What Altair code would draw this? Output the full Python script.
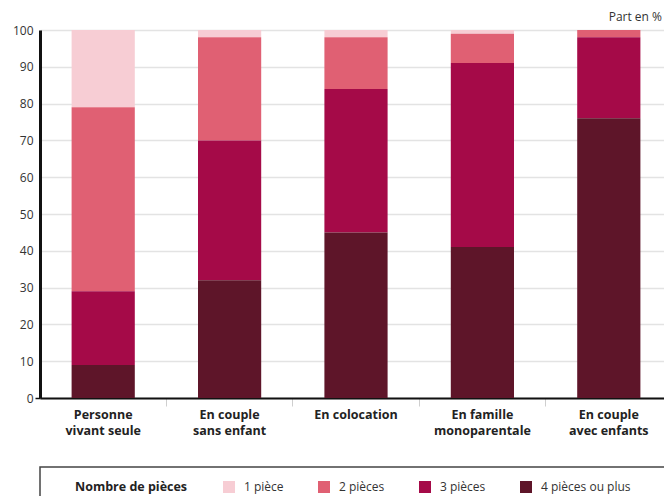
import altair as alt
import pandas as pd

categories = ["Personne\nvivant seule", "En couple\nsans enfant", "En colocation",
              "En famille\nmonoparentale", "En couple\navec enfants"]
pieces = ["1 pièce", "2 pièces", "3 pièces", "4 pièces ou plus"]
colors = ["#F7CDD4", "#E06073", "#A50A48", "#5E1529"]

v_1piece = [21, 2, 2, 1, 0]
v_2pieces = [50, 28, 14, 8, 2]
v_3pieces = [20, 38, 39, 50, 22]
v_4plus = [9, 32, 45, 41, 76]

series = [v_1piece, v_2pieces, v_3pieces, v_4plus]
rows = []
for pi, (p, vals) in enumerate(zip(pieces, series)):
    for c, v in zip(categories, vals):
        rows.append({"cat": c, "piece": p, "value": v, "ord": 3 - pi})
df = pd.DataFrame(rows)

bars = alt.Chart(df).mark_bar().encode(
    x=alt.X("cat:N", sort=categories,
            scale=alt.Scale(paddingInner=0.5, paddingOuter=0.25, range=[0, 632]),
            axis=alt.Axis(title=None, labelAngle=0,
                          labelExpr="split(datum.label, '\\n')",
                          labelLineHeight=16, labelFontSize=12.5,
                          labelFontWeight="bold", labelColor="#222",
                          labelPadding=2, bandPosition=1.5,
                          tickColor="#cfcfcf", tickSize=8, tickWidth=1,
                          domainColor="#111", domainWidth=2)),
    y=alt.Y("value:Q", stack="zero",
            scale=alt.Scale(domain=[0, 100], nice=False),
            axis=alt.Axis(title=None, values=list(range(0, 101, 10)),
                          labelFontSize=12, labelColor="#333", labelPadding=2,
                          tickSize=5, tickWidth=1.5,
                          tickColor=alt.ConditionalAxisColor(
                              condition={"test": "datum.value == 0", "value": "#111"},
                              value="transparent"),
                          domainColor="#111", domainWidth=3,
                          gridColor="#e3e3e3", gridWidth=1.5)),
    color=alt.Color("piece:N", sort=pieces,
                    scale=alt.Scale(domain=pieces, range=colors),
                    legend=alt.Legend(title="Nombre de pièces", orient="none",
                                      legendX=35, legendY=451,
                                      direction="horizontal", titleOrient="left",
                                      titleFontWeight="bold", titleFontSize=12.5,
                                      titleColor="#222", titlePadding=35,
                                      titleBaseline="middle",
                                      symbolType="square", symbolSize=144,
                                      symbolStrokeWidth=0, labelFontSize=12,
                                      labelColor="#333", labelOffset=9,
                                      columnPadding=34, padding=0)),
    order=alt.Order("ord:Q", sort="ascending"),
)

one = pd.DataFrame({"t": ["Part en %"]})
unit = alt.Chart(one).mark_text(align="right", baseline="middle", fontSize=12,
                                color="#333").encode(
    text="t:N", x=alt.value(622), y=alt.value(-13))

box = alt.Chart(one).mark_rect(fill=None, stroke="#444", strokeWidth=1.5).encode(
    x=alt.value(0), x2=alt.value(700), y=alt.value(437), y2=alt.value(530))

chart = alt.layer(bars, unit, box).properties(
    width=624, height=368,
    autosize=alt.AutoSizeParams(type="none"),
    padding={"left": 32, "top": 22, "right": 0, "bottom": 98},
).configure(font="Open Sans").configure_view(stroke=None)

chart.save("out.html", embed_options={"renderer": "svg", "actions": False})
